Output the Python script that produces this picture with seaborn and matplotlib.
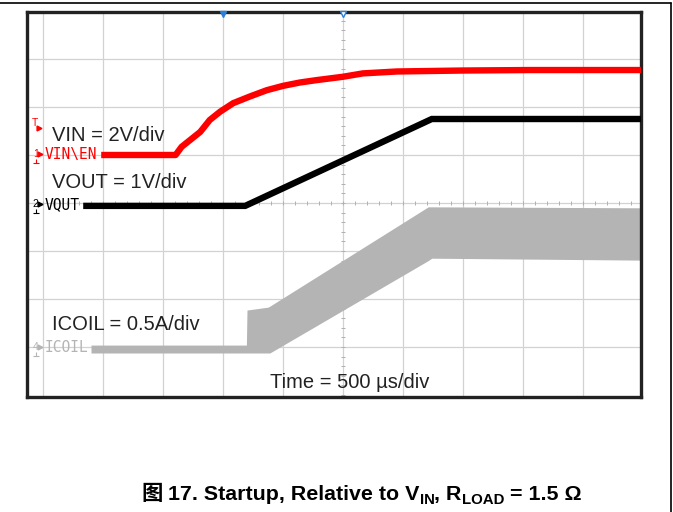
import numpy as np
import pandas as pd
import matplotlib
matplotlib.use("Agg")
import matplotlib.pyplot as plt
import seaborn as sns
from matplotlib.lines import Line2D

# ---- data (oscilloscope divisions) ----
vin_t = [0.97, 2.21, 2.31, 2.45, 2.62, 2.78, 2.95, 3.17, 3.45, 3.73, 4.0, 4.28,
         4.56, 5.0, 5.33, 5.9, 7.0, 8.1, 9.97]
vin_v = [5.0, 5.0, 5.17, 5.31, 5.48, 5.73, 5.90, 6.08, 6.22, 6.35, 6.44, 6.51,
         6.56, 6.63, 6.70, 6.74, 6.76, 6.77, 6.77]

vout_t = [0.67, 3.37, 6.48, 9.97]
vout_v = [3.94, 3.94, 5.75, 5.75]

icoil_t = [0.8, 3.39, 3.40, 3.75, 3.78, 6.42, 6.48, 9.97]
icoil_hi = [1.04, 1.04, 1.77, 1.83, 1.85, 3.92, 3.92, 3.90]
icoil_lo = [0.875, 0.875, 0.875, 0.875, 0.875, 2.80, 2.85, 2.81]

scale_labels = ["VIN = 2V/div", "VOUT = 1V/div", "ICOIL = 0.5A/div"]
chan_names = ["VIN\\EN", "VQUT", "ICOIL"]
time_label = "Time = 500 µs/div"

sns.set_style("white")
plt.rcParams['font.family'] = ['Liberation Sans', 'DejaVu Sans']

W, H = 673, 512
fig = plt.figure(figsize=(W / 100, H / 100), dpi=100)
ax = fig.add_axes([27 / W, 1 - 397 / H, (641 - 27) / W, (397 - 12) / H])
ax.set_xlim((27 - 43) / 60, (641 - 43) / 60)
ax.set_ylim((395 - 397) / 48, (395 - 12) / 48)

# grid
for gx in range(0, 10):
    ax.axvline(gx, color="#d2d2d2", lw=0.9, zorder=0)
for gy in range(1, 8):
    ax.axhline(gy, color="#d2d2d2", lw=0.9, zorder=0)
# center minor ticks
mx = np.arange(0, 10.01, 0.2)
ax.plot(mx, np.full_like(mx, 4.0), ls="none", marker="|", ms=3.5, mew=0.7, color="#b0b0b0", zorder=0)
my = np.arange(0, 8.01, 0.2)
ax.plot(np.full_like(my, 5.0), my, ls="none", marker="_", ms=3.5, mew=0.7, color="#b0b0b0", zorder=0)

# traces
icoil = pd.DataFrame({"t": icoil_t, "hi": icoil_hi, "lo": icoil_lo})
ax.fill_between(icoil["t"], icoil["lo"], icoil["hi"], color="#b4b4b4", lw=0, zorder=2)

vout = pd.DataFrame({"t": vout_t, "v": vout_v})
sns.lineplot(data=vout, x="t", y="v", ax=ax, color="black", lw=4.6, zorder=3,
             solid_joinstyle="miter", solid_capstyle="butt")
vin = pd.DataFrame({"t": vin_t, "v": vin_v})
sns.lineplot(data=vin, x="t", y="v", ax=ax, color="#ff0000", lw=4.6, zorder=3,
             solid_capstyle="butt")

# border
for sp in ax.spines.values():
    sp.set_visible(True)
    sp.set_color("#222222")
    sp.set_linewidth(2.4)
ax.set_xticks([])
ax.set_yticks([])
ax.set_xlabel("")
ax.set_ylabel("")

# trigger markers at top
ax.plot([3.0], [7.93], marker="v", ms=4.5, color="#2a7fd6", clip_on=False, zorder=5)
ax.plot([5.0], [7.93], marker="v", ms=4.5, mfc="white", mec="#2a7fd6", mew=1, clip_on=False, zorder=5)

# scale labels
fs = 14.5
ax.text(0.15, 5.4, scale_labels[0], fontsize=fs, va="center", ha="left", color="#222222")
ax.text(0.15, 4.42, scale_labels[1], fontsize=fs, va="center", ha="left", color="#222222")
ax.text(0.15, 1.46, scale_labels[2], fontsize=fs, va="center", ha="left", color="#222222")
ax.text(3.78, 0.27, time_label, fontsize=fs, va="center", ha="left", color="#222222")

# channel labels
mono = ["DejaVu Sans Mono"]
ax.text(0.03, 5.0, chan_names[0], fontsize=10.5, family=mono, color="#ff0000", va="center", ha="left")
ax.text(0.03, 3.96, chan_names[1], fontsize=10.5, family=mono, color="black", va="center", ha="left")
ax.text(0.03, 0.98, chan_names[2], fontsize=10.5, family=mono, color="#b4b4b4", va="center", ha="left")

for yv, num, col in [(5.0, "1", "#ff0000"), (3.96, "2", "black"), (0.98, "4", "#b4b4b4")]:
    ax.text(-0.12, yv + 0.02, num, fontsize=7.5, color=col, va="center", ha="center")
    ax.plot([-0.05], [yv + 0.02], marker=">", ms=3.5, color=col, zorder=5)
    ax.plot([-0.12], [yv - 0.17], marker="_", ms=5, mew=0.8, color=col, zorder=5)
    ax.plot([-0.12], [yv - 0.13], marker="|", ms=3, mew=0.8, color=col, zorder=5)
ax.text(-0.13, 5.66, "T", fontsize=7.5, color="#ff0000", va="center", ha="center")
ax.plot([-0.06], [5.56], marker=">", ms=3.5, color="#ff0000", zorder=5)

# page lines
fig.add_artist(Line2D([0, 671 / W], [1 - 3 / H, 1 - 3 / H], color="black", lw=1.2))
fig.add_artist(Line2D([671 / W, 671 / W], [0, 1 - 3 / H], color="black", lw=1.2))

# caption
renderer = fig.canvas.get_renderer()
y0 = 1 - 500 / H
x = 142 / W
sans = ["Liberation Sans", "DejaVu Sans"]
cjk = ["Noto Sans CJK SC", "DejaVu Sans"]
pieces = [
    ("图 ", 15.4, 0, cjk),
    ("17. Startup, Relative to V", 15.4, 0, sans),
    ("IN", 10.8, -4, sans),
    (", R", 15.4, 0, sans),
    ("LOAD", 10.8, -4, sans),
    (" = 1.5 Ω", 15.4, 0, sans),
]
for s, size, dy, fam in pieces:
    t = fig.text(x, y0 + dy / H, s, fontsize=size, fontweight="bold", family=fam,
                 va="baseline", ha="left", color="black")
    bb = t.get_window_extent(renderer)
    x = bb.x1 / fig.bbox.width

fig.savefig("out.png", dpi=100)
